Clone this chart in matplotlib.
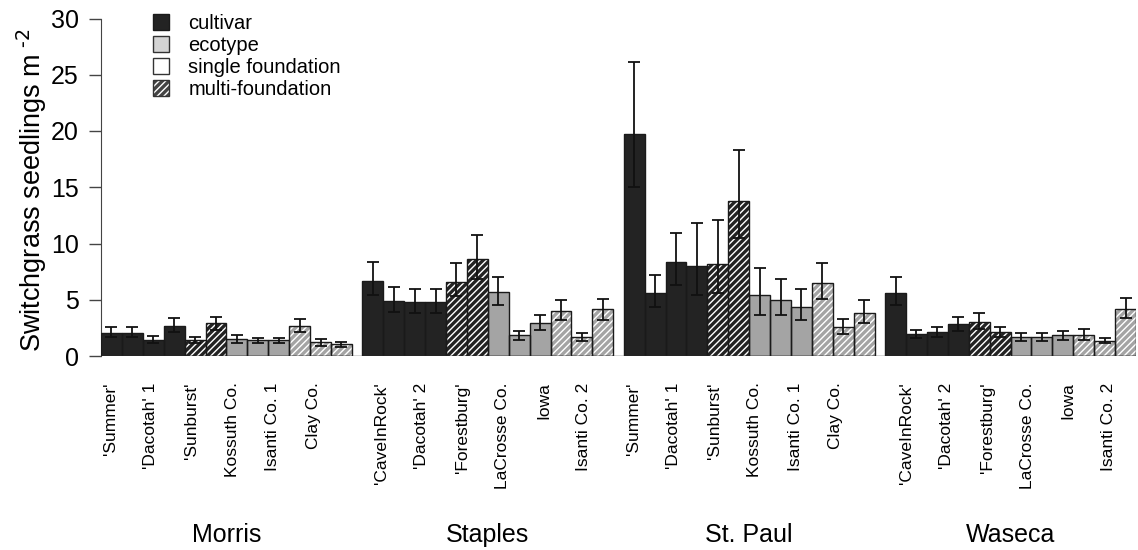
import numpy as np
import matplotlib.pyplot as plt
from matplotlib.patches import Patch
from matplotlib import transforms

plt.rcParams['font.family'] = ['Liberation Sans', 'DejaVu Sans']
plt.rcParams['hatch.linewidth'] = 1.0

sites = ['Morris', 'Staples', 'St. Paul', 'Waseca']
accessions = ["'Summer'", "'CaveInRock'", "'Dacotah' 1", "'Dacotah' 2",
              "'Sunburst'", "'Forestburg'", "Kossuth Co.", "LaCrosse Co.",
              "Isanti Co. 1", "Iowa", "Clay Co.", "Isanti Co. 2"]
is_cultivar = [1, 1, 1, 1, 1, 1, 0, 0, 0, 0, 0, 0]
is_multi = [0, 0, 0, 0, 1, 1, 0, 0, 0, 1, 1, 1]

# mean seedlings m-2, with lower / upper error limits (back-transformed, asymmetric)
morris = [2.05, 2.05, 1.45, 2.7, 1.45, 2.9, 1.55, 1.38, 1.38, 2.7, 1.25, 1.05]
morris_lo = [1.66, 1.66, 1.13, 2.13, 1.13, 2.31, 1.18, 1.13, 1.13, 2.13, 0.92, 0.83]
morris_hi = [2.55, 2.55, 1.78, 3.35, 1.72, 3.5, 1.84, 1.63, 1.63, 3.26, 1.54, 1.27]

staples = [6.7, 4.92, 4.8, 4.8, 6.6, 8.6, 5.72, 1.84, 2.9, 4.03, 1.66, 4.15]
staples_lo = [5.39, 3.91, 3.79, 3.79, 5.3, 6.82, 4.5, 1.42, 2.31, 3.2, 1.3, 3.2]
staples_hi = [8.38, 6.1, 5.98, 5.98, 8.27, 10.76, 7.05, 2.25, 3.62, 5.0, 2.04, 5.1]

stpaul = [19.7, 5.57, 8.38, 7.97, 8.18, 13.8, 5.4, 5.0, 4.38, 6.5, 2.55, 3.82]
stpaul_lo = [15.0, 4.38, 6.29, 5.4, 5.6, 10.5, 3.62, 3.62, 3.2, 5.1, 1.93, 2.9]
stpaul_hi = [26.1, 7.2, 10.96, 11.8, 12.1, 18.3, 7.8, 6.87, 6.0, 8.3, 3.3, 5.0]

waseca = [5.57, 1.93, 2.13, 2.84, 3.05, 2.13, 1.66, 1.66, 1.84, 1.84, 1.36, 4.15]
waseca_lo = [4.53, 1.57, 1.66, 2.22, 2.37, 1.66, 1.33, 1.33, 1.45, 1.45, 1.13, 3.35]
waseca_hi = [6.99, 2.31, 2.6, 3.49, 3.85, 2.6, 2.04, 2.04, 2.25, 2.37, 1.63, 5.13]

means = [morris, staples, stpaul, waseca]
lows = [morris_lo, staples_lo, stpaul_lo, waseca_lo]
highs = [morris_hi, staples_hi, stpaul_hi, waseca_hi]

dark = '#232323'
grey = '#a4a4a4'

fig = plt.figure(figsize=(11.38, 5.5), dpi=100)
ax = fig.add_axes([101/1138, 1 - 356/550, 1035/1138, (356 - 18.5)/550])

nb = len(accessions)
gap = 0.5
tick_pos = []
tick_lab = []
lab_start = [0.45, 0.9, 0.45, 1.0]
site_tf = transforms.blended_transform_factory(ax.transData, fig.transFigure)
for g, site in enumerate(sites):
    x0 = g * (nb + gap)
    x = x0 + np.arange(nb) + 0.5
    m = np.array(means[g])
    lo = m - np.array(lows[g])
    hi = np.array(highs[g]) - m
    for i in range(nb):
        fc = dark if is_cultivar[i] else grey
        if is_multi[i]:
            ax.bar(x[i], m[i], width=1.0, color=fc, edgecolor='white',
                   hatch='/////', linewidth=0, zorder=2)
        else:
            ax.bar(x[i], m[i], width=1.0, color=fc, linewidth=0, zorder=2)
        ax.bar(x[i], m[i], width=1.0, fill=False, edgecolor='#1a1a1a',
               linewidth=1.0, zorder=3)
    ax.errorbar(x, m, yerr=[lo, hi], fmt='none', ecolor='#111111',
                elinewidth=1.3, capsize=4.5, capthick=1.3, zorder=4)
    # labels alternate between neighbouring sites so all 12 names fit
    for k in range(6):
        idx = 2 * k + (g % 2)
        tick_pos.append(x0 + lab_start[g] + 1.94 * k)
        tick_lab.append(accessions[idx])
    ax.text(x0 + nb / 2, 8/550, site, fontsize=18, ha='center', va='baseline',
            transform=site_tf)

ax.axhline(0, color='#333333', lw=1.0, zorder=5)
ax.set_xlim(0, 4 * nb + 3 * gap)
ax.set_ylim(0, 30)
ax.set_yticks([0, 5, 10, 15, 20, 25, 30])
ax.tick_params(axis='y', labelsize=18, length=9, width=1, color='#444444', pad=7)
ax.set_xticks(tick_pos, tick_lab, rotation=90, fontsize=12.5)
ax.tick_params(axis='x', length=0, pad=19)
for lab in ax.get_xticklabels():
    lab.set_verticalalignment('top')

for s in ['top', 'right', 'bottom']:
    ax.spines[s].set_visible(False)
ax.spines['left'].set_bounds(0, 30)
ax.spines['left'].set_color('#444444')

fig.text(32/1138, 1 - 190/550, 'Switchgrass seedlings m$^{\\ \\text{-2}}$', rotation=90,
         fontsize=19.5, ha='center', va='center')

handles = [Patch(facecolor=dark, edgecolor='#1a1a1a'),
           Patch(facecolor='#d4d4d4', edgecolor='#333333'),
           Patch(facecolor='white', edgecolor='#333333'),
           (Patch(facecolor='#444444', edgecolor='white', hatch='/////', linewidth=0),
            Patch(fill=False, edgecolor='#333333'))]
fig.legend(handles, ['cultivar', 'ecotype', 'single foundation', 'multi-foundation'],
           loc='upper left', bbox_to_anchor=(153/1138, 1 - 14/550), frameon=False,
           fontsize=14.5, handlelength=0.8, handleheight=0.8, handletextpad=0.95,
           labelspacing=0.15, borderpad=0, borderaxespad=0)

fig.savefig('out.png', dpi=100)
